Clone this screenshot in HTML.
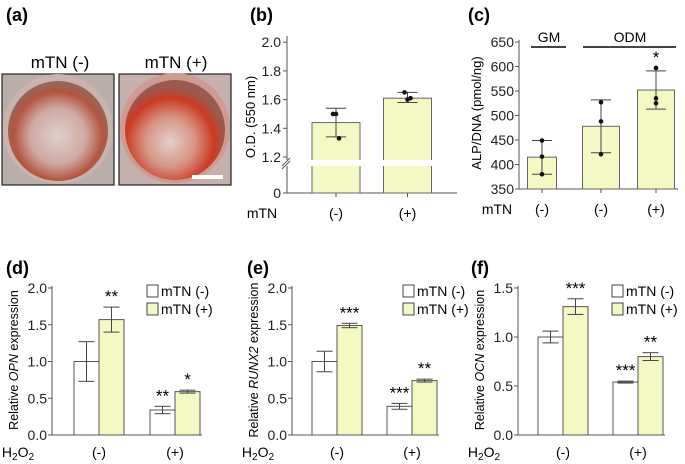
<!DOCTYPE html>
<html><head><meta charset="utf-8"><style>
body{margin:0;background:#fff;}
svg{display:block;font-family:"Liberation Sans",sans-serif;}
</style></head><body>
<svg id="fig" width="685" height="464" viewBox="0 0 685 464">
<defs>
<radialGradient id="dishA" cx="50%" cy="55%" r="55%"><stop offset="0" stop-color="#ddd0cc"/><stop offset="0.5" stop-color="#cfaaa2"/><stop offset="0.8" stop-color="#b5553f"/><stop offset="1" stop-color="#8e6a60"/></radialGradient>
<radialGradient id="dishB" cx="45%" cy="62%" r="55%"><stop offset="0" stop-color="#e2d0cb"/><stop offset="0.45" stop-color="#d69585"/><stop offset="0.8" stop-color="#cc3a22"/><stop offset="1" stop-color="#9a5a50"/></radialGradient>
</defs>
<!-- panel a -->
<text x="6" y="21" font-size="18" font-weight="bold">(a)</text>
<text x="60" y="68" font-size="17" text-anchor="middle">mTN (-)</text>
<text x="176" y="68" font-size="17" text-anchor="middle">mTN (+)</text>
<g>
<rect x="2" y="74" width="112" height="111" fill="#b9aeaa" stroke="#222" stroke-width="1.2"/>
<circle cx="58" cy="129" r="55" fill="#c9b3ad"/>
<circle cx="58" cy="131" r="50" fill="url(#dishA)"/>
</g>
<g>
<rect x="119" y="74" width="112" height="111" fill="#c4b0ac" stroke="#222" stroke-width="1.2"/>
<circle cx="175" cy="128" r="55" fill="#cf9a90"/>
<circle cx="175" cy="130" r="50" fill="url(#dishB)"/>
<rect x="192" y="175" width="31" height="4" fill="#fff"/>
</g>
<g id="panels"></g>
</svg>
<script>
// ---- panel b data ----
const bCats=["(-)","(+)"];
const bMeans=[1.44,1.61];
const bErrHi=[1.54,1.65];
const bErrLo=[1.34,1.58];
const bPoints=[[1.5,1.5,1.33],[1.65,1.60,1.61]];
const bTicks=["2.0","1.8","1.6","1.4","1.2"];
// ---- panel c data ----
const cCats=["(-)","(-)","(+)"];
const cMeans=[415,478,552];
const cErrHi=[449,532,591];
const cErrLo=[380,424,513];
const cPoints=[[449,416,380],[527,488,421],[597,535,525]];
const cTicks=[350,400,450,500,550,600,650];
// ---- panel d/e/f data ----
const groups=["(-)","(+)"];
const dMinus=[1.0,0.34], dPlus=[1.57,0.59], dErrMinus=[0.27,0.05], dErrPlus=[0.17,0.02];
const dStarsMinus=["","**"], dStarsPlus=["**","*"];
const eMinus=[1.0,0.39], ePlus=[1.49,0.74], eErrMinus=[0.14,0.04], eErrPlus=[0.03,0.02];
const eStarsMinus=["","***"], eStarsPlus=["***","**"];
const fMinus=[1.0,0.54], fPlus=[1.31,0.80], fErrMinus=[0.06,0.01], fErrPlus=[0.08,0.04];
const fStarsMinus=["","***"], fStarsPlus=["***","**"];
const geneTicks2=["0.0","0.5","1.0","1.5","2.0"];
const geneTicks15=["0.0","0.5","1.0","1.5"];

const NS="http://www.w3.org/2000/svg";
const root=document.getElementById('panels');
const GREEN="#f4f9c4";
const TF=14;
function el(tag,attrs,parent,text){const e=document.createElementNS(NS,tag);for(const k in attrs)e.setAttribute(k,attrs[k]);if(text!==undefined)e.textContent=text;(parent||root).appendChild(e);return e;}
function line(x1,y1,x2,y2,parent,c,w){return el('line',{x1,y1,x2,y2,stroke:c||'#555','stroke-width':w||1},parent);}

// ===== panel b =====
(function(){
  const g=el('g',{});
  
  
  const t=el('text',{x:250,y:21,'font-size':18,'font-weight':'bold'},g,'(b)');
  
  const ax=287, y0=193;
  const yv=v=>157-(v-1.2)/0.2*28.7;
  const xc=i=>336+i*71.5;
  line(ax,36,ax,y0,g);line(ax,y0,457,y0,g);
  bTicks.forEach(s=>{const y=yv(parseFloat(s));line(ax-4,y,ax,y,g);el('text',{x:ax-6,y:y+5,'font-size':TF,'text-anchor':'end',fill:'#222'},g,s);});
  line(ax-4,y0,ax,y0,g);el('text',{x:ax-6,y:y0+5,'font-size':TF,'text-anchor':'end',fill:'#222'},g,'0');
  bCats.forEach((c,i)=>{
    const x=xc(i),top=yv(bMeans[i]);
    const r=el('rect',{x:x-24,y:top,width:48,height:y0-top,fill:GREEN,stroke:'#666','stroke-width':1},g);
    
    line(x,yv(bErrHi[i]),x,yv(bErrLo[i]),g,'#444');
    line(x-10,yv(bErrHi[i]),x+10,yv(bErrHi[i]),g,'#444');line(x-10,yv(bErrLo[i]),x+10,yv(bErrLo[i]),g,'#444');
    bPoints[i].forEach((p,j)=>{const d=el('circle',{cx:x+(j-1)*3,cy:yv(p),r:2.3,fill:'#111'},g);});
    line(x,y0,x,y0+4,g);
    el('text',{x:x,y:218,'font-size':TF,'text-anchor':'middle'},g,c);
  });
  el('rect',{x:280,y:160,width:180,height:6,fill:'#fff'},g);
  line(282,166,290,158,g,'#555');line(282,169,290,161,g,'#555');
  el('text',{x:262,y:218,'font-size':TF,'text-anchor':'middle'},g,'mTN');
  const yl=el('text',{x:0,y:0,'font-size':13,'text-anchor':'middle',transform:'translate(255,117) rotate(-90)'},g,'O.D. (550 nm)');
  
})();

// ===== panel c =====
(function(){
  const g=el('g',{});
  
  
  el('text',{x:468,y:21,'font-size':18,'font-weight':'bold'},g,'(c)');
  const ax=519, y0=189;
  const yv=v=>189-(v-350)/300*147;
  const xc=[542,601,656], bw=[29,37,37];
  line(ax,40,ax,y0,g);line(ax,y0,678,y0,g);
  cTicks.forEach(v=>{const y=yv(v);line(ax-4,y,ax,y,g);el('text',{x:ax-5,y:y+5,'font-size':TF,'text-anchor':'end',fill:'#222'},g,String(v));});
  cCats.forEach((c,i)=>{
    const x=xc[i],top=yv(cMeans[i]);
    const r=el('rect',{x:x-bw[i]/2,y:top,width:bw[i],height:y0-top,fill:GREEN,stroke:'#666'},g);
    
    line(x,yv(cErrHi[i]),x,yv(cErrLo[i]),g,'#444');
    line(x-10,yv(cErrHi[i]),x+10,yv(cErrHi[i]),g,'#444');line(x-10,yv(cErrLo[i]),x+10,yv(cErrLo[i]),g,'#444');
    cPoints[i].forEach(p=>{const d=el('circle',{cx:x,cy:yv(p),r:2.3,fill:'#111'},g);});
    line(x,y0,x,y0+4,g);
    el('text',{x:x,y:214,'font-size':TF,'text-anchor':'middle'},g,c);
  });
  el('text',{x:656,y:63,'font-size':17,'text-anchor':'middle'},g,'*');
  el('text',{x:497,y:214,'font-size':TF,'text-anchor':'middle'},g,'mTN');
  line(531,47,566,47,g,'#444',2);line(583,47,676,47,g,'#444',2);
  el('text',{x:549,y:42,'font-size':TF,'text-anchor':'middle'},g,'GM');
  el('text',{x:630,y:42,'font-size':TF,'text-anchor':'middle'},g,'ODM');
  const yl=el('text',{x:0,y:0,'font-size':13,'text-anchor':'middle',transform:'translate(481,113) rotate(-90)'},g,'ALP/DNA (pmol/ng)');
  
})();

// ===== gene panels =====
function gene(cfg){
  const g=el('g',{});
  
  
  el('text',{x:cfg.lx,y:274,'font-size':18,'font-weight':'bold'},g,'('+cfg.id+')');
  const ax=cfg.ax,y0=435;
  const yv=v=>y0-v/cfg.max*147;
  line(ax,286,ax,y0,g);line(ax,y0,cfg.xs[1]+27,y0,g);
  cfg.ticks.forEach(s=>{const y=yv(parseFloat(s));line(ax-4,y,ax,y,g);el('text',{x:ax-5,y:y+5,'font-size':TF,'text-anchor':'end',fill:'#222'},g,s);});
  groups.forEach((gr,i)=>{
    const x=cfg.xs[i];
    [[cfg.minus,cfg.errM,cfg.starM,'#fff',-1],[cfg.plus,cfg.errP,cfg.starP,GREEN,1]].forEach(([vals,err,st,fill,side])=>{
      const v=vals[i],cx=x+side*12.5,top=yv(v);
      const r=el('rect',{x:cx-12.5,y:top,width:25,height:y0-top,fill:fill,stroke:'#555'},g);
      
      
      const hi=yv(v+err[i]),lo=yv(v-err[i]);
      line(cx,hi,cx,lo,g,'#444');line(cx-8,hi,cx+8,hi,g,'#444');line(cx-8,lo,cx+8,lo,g,'#444');
      if(st[i])el('text',{x:cx,y:hi-5,'font-size':17,'text-anchor':'middle'},g,st[i]);
    });
    el('text',{x:x,y:457,'font-size':TF,'text-anchor':'middle'},g,gr);
  });
  const h=el('text',{x:ax-34,y:457,'font-size':TF,'text-anchor':'middle'},g);
  h.innerHTML='H<tspan font-size="10" dy="3">2</tspan><tspan dy="-3">O</tspan><tspan font-size="10" dy="3">2</tspan>';
  [['mTN (-)','#fff',290],['mTN (+)',GREEN,308]].forEach(([t,f,y])=>{
    const b=el('rect',{x:cfg.legx,y:y-5,width:11,height:12,fill:f,stroke:'#444'},g);
    
    el('text',{x:cfg.legx+14,y:y+6,'font-size':TF},g,t);
  });
  const yl=el('text',{x:0,y:0,'font-size':12.5,'text-anchor':'middle',transform:'translate('+(ax-34)+',360) rotate(-90)'},g);
  yl.innerHTML='Relative <tspan font-style="italic">'+cfg.gene+'</tspan> expression';
  
}
gene({id:'d',lx:6,ax:52,xs:[99,175],max:2,ticks:geneTicks2,gene:'OPN',minus:dMinus,plus:dPlus,errM:dErrMinus,errP:dErrPlus,starM:dStarsMinus,starP:dStarsPlus,legx:147});
gene({id:'e',lx:247,ax:292,xs:[337,412],max:2,ticks:geneTicks2,gene:'RUNX2',minus:eMinus,plus:ePlus,errM:eErrMinus,errP:eErrPlus,starM:eStarsMinus,starP:eStarsPlus,legx:403});
gene({id:'f',lx:471,ax:518,xs:[563,638],max:1.5,ticks:geneTicks15,gene:'OCN',minus:fMinus,plus:fPlus,errM:fErrMinus,errP:fErrPlus,starM:fStarsMinus,starP:fStarsPlus,legx:612});
</script>
</body></html>
